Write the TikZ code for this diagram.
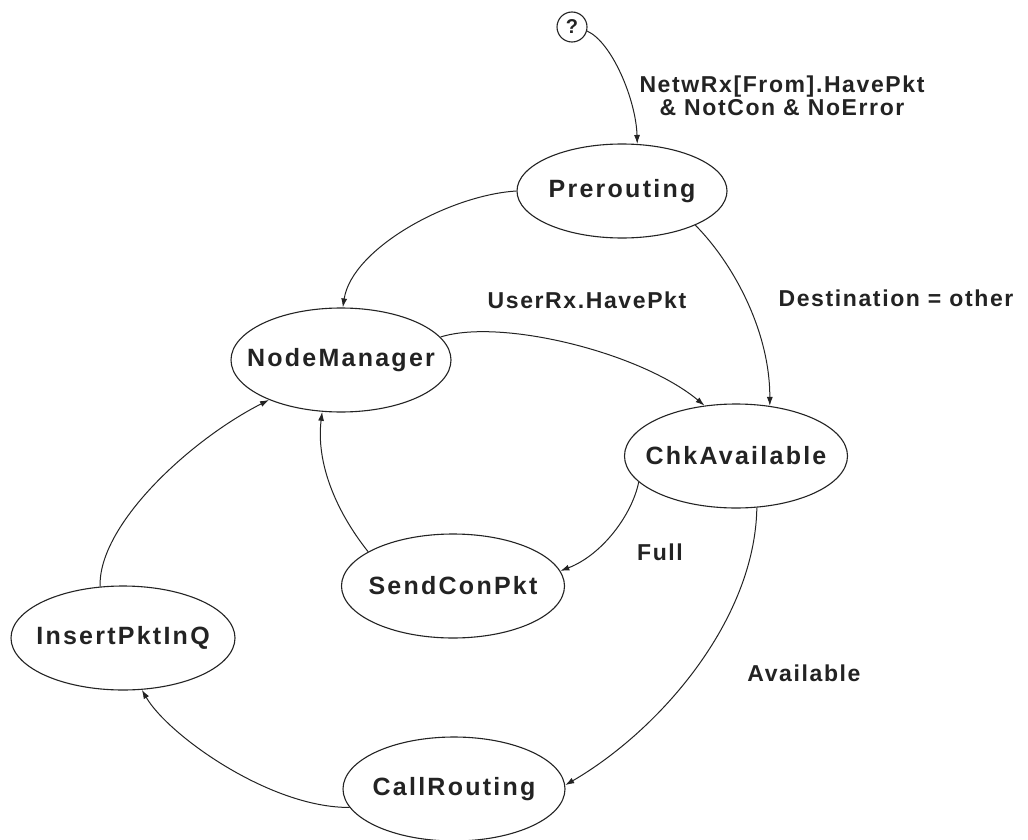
\documentclass[tikz,border=0pt]{standalone}
\usepackage{fontspec}
\usetikzlibrary{shapes.geometric,arrows.meta}
\newfontfamily\statefont{Liberation Sans Bold}[LetterSpace=9]
\newfontfamily\condfont{Liberation Sans Bold}[LetterSpace=7]
\definecolor{ink}{RGB}{35,35,35}
% state names are set in a zero-width box so the ellipse size is fixed by the style
\newcommand{\stname}[1]{\makebox[0pt][c]{#1}}
\begin{document}
\begin{tikzpicture}[x=1pt,y=-1pt,
  state/.style={ellipse,draw=ink,line width=1.1pt,inner sep=0pt,
    minimum width=220pt,minimum height=104pt,text=ink,
    font=\statefont\fontsize{25}{29}\selectfont},
  cond/.style={text=ink,align=center,inner sep=0pt,
    font=\condfont\fontsize{23}{23}\selectfont},
  trans/.style={draw=ink,line width=1pt,-{Latex[length=9pt,width=6pt]}}]
\useasboundingbox (0,0) rectangle (1028,840);
\fill[white] (0,0) rectangle (1028,840);

% initial pseudo-state
\node[circle,draw=ink,line width=1.1pt,minimum size=30pt,inner sep=0pt,text=ink,
  font=\statefont\fontsize{20}{22}\selectfont] (q) at (572,27) {?};

% states
\node[state,minimum width=210pt,minimum height=94pt] (pre) at (622,191) {\stname{Prerouting}};
\node[state] (nm)  at (341,360) {\stname{NodeManager}};
\node[state,minimum width=223pt] (chk) at (736,456) {\stname{ChkAvailable}};
\node[state,minimum width=223pt] (scp) at (453,586) {\stname{SendConPkt}};
\node[state,minimum width=224pt] (ipq) at (123,638) {\stname{InsertPktInQ}};
\node[state,minimum width=222pt] (cr)  at (454,789) {\stname{CallRouting}};

% transition labels
\node[cond] (l1) at (782,96) {NetwRx[From].HavePkt\\\& NotCon \& NoError};
\node[cond] (l2) at (587,300) {UserRx.HavePkt};
\node[cond] (l3) at (896,298) {Destination = other};
\node[cond] (l4) at (660,552) {Full};
\node[cond] (l5) at (804,673) {Available};

% transitions
\draw[trans] (q.-15) .. controls (612,42) and (636,100) .. (pre.72);
\draw[trans] (pre.180) .. controls (450,195) and (352,248) .. (nm.88);
\draw[trans] (nm.13) .. controls (500,318) and (640,352) .. (chk.122);
\draw[trans] (pre.-25) .. controls (732,262) and (770,330) .. (chk.56);
\draw[trans] (chk.195) .. controls (632,515) and (602,555) .. (scp.8);
\draw[trans] (chk.-68) .. controls (755,620) and (660,730) .. (cr.2);
\draw[trans] (cr.190) .. controls (270,808) and (168,735) .. (ipq.-70);
\draw[trans] (ipq.114) .. controls (98,525) and (190,440) .. (nm.209);
\draw[trans] (scp.158) .. controls (335,510) and (316,462) .. (nm.250);
\end{tikzpicture}
\end{document}
